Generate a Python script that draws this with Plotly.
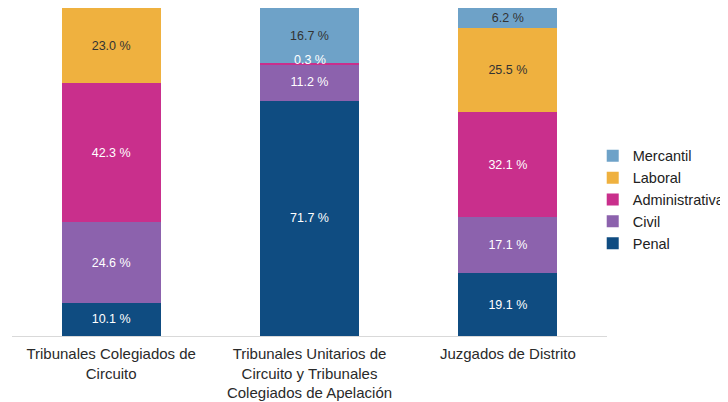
import plotly.graph_objects as go

categories = [
    "Tribunales Colegiados de<br>Circuito",
    "Tribunales Unitarios de<br>Circuito y Tribunales<br>Colegiados de Apelación",
    "Juzgados de Distrito",
]
series_names = ["Penal", "Civil", "Administrativa", "Laboral", "Mercantil"]
penal = [10.1, 71.7, 19.1]
civil = [24.6, 11.2, 17.1]
administrativa = [42.3, 0.3, 32.1]
laboral = [23.0, 0.0, 25.5]
mercantil = [0.0, 16.7, 6.2]

colors = {
    "Penal": "#0f4c81",
    "Civil": "#8c62ad",
    "Administrativa": "#c92f8c",
    "Laboral": "#efb13f",
    "Mercantil": "#6ea2c8",
}
text_colors = {
    "Penal": "white",
    "Civil": "white",
    "Administrativa": "white",
    "Laboral": "#333333",
    "Mercantil": "#333333",
}
values = {
    "Penal": penal,
    "Civil": civil,
    "Administrativa": administrativa,
    "Laboral": laboral,
    "Mercantil": mercantil,
}
FONT = "Liberation Sans, Arial"

fig = go.Figure()
small_labels = []
cum = [0.0, 0.0, 0.0]
for name in series_names:
    vals = values[name]
    texts = []
    for i, v in enumerate(vals):
        if v >= 2:
            texts.append(f"{v:.1f} %")
        else:
            texts.append("")
            if v > 0:
                small_labels.append((i, cum[i] + v, f"{v:.1f} %"))
        cum[i] += v
    fig.add_trace(go.Bar(
        x=categories, y=vals, name=name,
        marker=dict(color=colors[name], line=dict(width=0)),
        text=texts, textposition="inside", insidetextanchor="middle",
        textangle=0,
        textfont=dict(color=text_colors[name], size=12.5, family=FONT),
        hoverinfo="skip",
    ))

for i, y, t in small_labels:
    fig.add_annotation(x=categories[i], y=y, text=t, showarrow=False,
                       yanchor="bottom", yshift=-6,
                       font=dict(color="white", size=12.5, family=FONT))

fig.update_layout(
    barmode="stack",
    bargap=0.5,
    width=728, height=402,
    margin=dict(l=4, r=129, t=0, b=74),
    paper_bgcolor="white", plot_bgcolor="white",
    font=dict(family=FONT, size=14, color="#333333"),
    showlegend=True,
    legend=dict(traceorder="reversed", x=0.976, y=0.415, yanchor="middle", xanchor="left",
                font=dict(size=14.5, color="#222222"), itemwidth=30,
                tracegroupgap=0, bgcolor="rgba(0,0,0,0)"),
    uniformtext=dict(mode="show", minsize=8),
)
fig.update_xaxes(showline=True, linecolor="#d9d9d9", linewidth=1, ticks="",
                 ticklabelstandoff=4,
                 tickfont=dict(size=15, color="#2a2a2a"), showgrid=False)
fig.update_yaxes(range=[0, 100], visible=False, showgrid=False)

fig.write_html("out.html")
